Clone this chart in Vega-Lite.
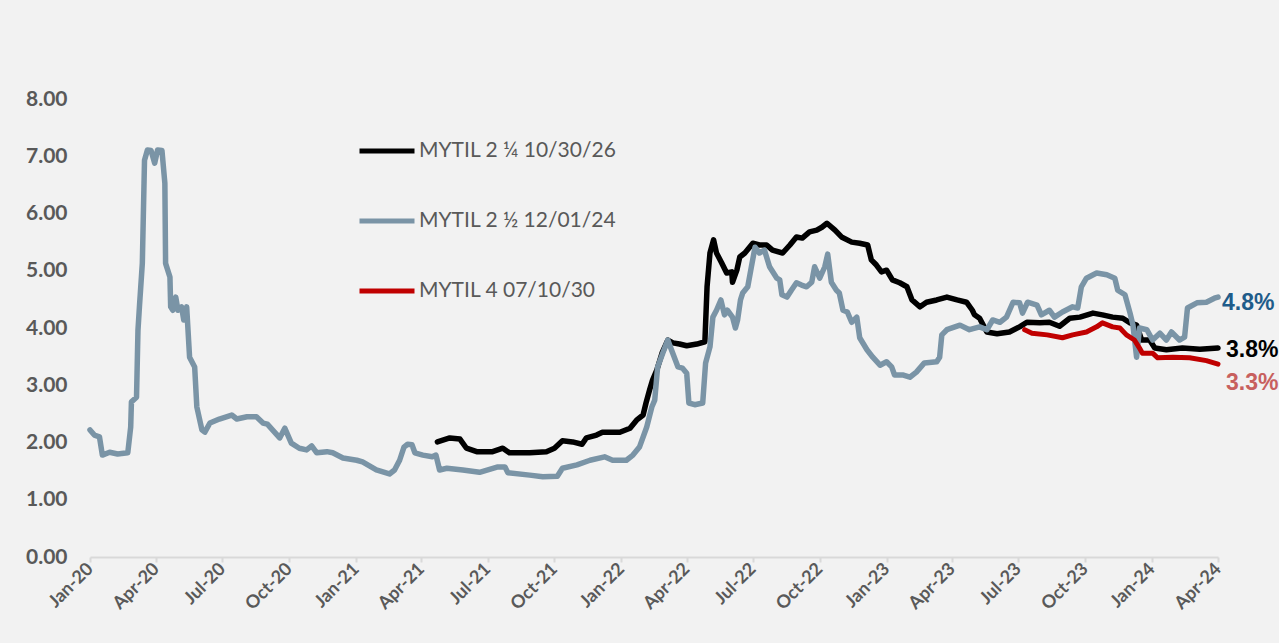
{
"$schema": "https://vega.github.io/schema/vega-lite/v6.json",
"width": 1128, "height": 458,
"autosize": {"type": "none"},
"padding": {"left": 90, "top": 99, "right": 61, "bottom": 86},
"background": "#f2f2f2",
"config": {"view": {"stroke": null}, "font": "Lato"},
"datasets": {
"black": [
{"d":"2021-04-23","v":2.01},{"d":"2021-05-10","v":2.08},{"d":"2021-05-24","v":2.06},{"d":"2021-06-02","v":1.90},{"d":"2021-06-16","v":1.84},{"d":"2021-07-08","v":1.84},{"d":"2021-07-22","v":1.90},{"d":"2021-07-31","v":1.82},{"d":"2021-08-28","v":1.82},{"d":"2021-09-20","v":1.84},{"d":"2021-10-01","v":1.90},{"d":"2021-10-12","v":2.03},{"d":"2021-10-26","v":2.01},{"d":"2021-11-08","v":1.97},{"d":"2021-11-14","v":2.08},{"d":"2021-11-28","v":2.13},{"d":"2021-12-06","v":2.18},{"d":"2021-12-30","v":2.18},{"d":"2022-01-13","v":2.25},{"d":"2022-01-22","v":2.39},{"d":"2022-01-31","v":2.48},{"d":"2022-02-04","v":2.69},{"d":"2022-02-09","v":2.92},{"d":"2022-02-13","v":3.09},{"d":"2022-02-19","v":3.27},{"d":"2022-02-26","v":3.56},{"d":"2022-03-06","v":3.79},{"d":"2022-03-13","v":3.74},{"d":"2022-03-22","v":3.72},{"d":"2022-04-01","v":3.69},{"d":"2022-04-15","v":3.72},{"d":"2022-04-26","v":3.76},{"d":"2022-04-29","v":4.72},{"d":"2022-05-03","v":5.31},{"d":"2022-05-08","v":5.54},{"d":"2022-05-12","v":5.31},{"d":"2022-05-19","v":5.14},{"d":"2022-05-26","v":4.96},{"d":"2022-06-02","v":4.98},{"d":"2022-06-03","v":4.80},{"d":"2022-06-09","v":5.01},{"d":"2022-06-13","v":5.24},{"d":"2022-06-20","v":5.31},{"d":"2022-07-01","v":5.48},{"d":"2022-07-10","v":5.45},{"d":"2022-07-20","v":5.45},{"d":"2022-07-28","v":5.36},{"d":"2022-08-11","v":5.31},{"d":"2022-08-21","v":5.45},{"d":"2022-08-30","v":5.59},{"d":"2022-09-07","v":5.57},{"d":"2022-09-17","v":5.68},{"d":"2022-09-27","v":5.71},{"d":"2022-10-04","v":5.76},{"d":"2022-10-11","v":5.83},{"d":"2022-10-22","v":5.71},{"d":"2022-10-31","v":5.59},{"d":"2022-11-14","v":5.50},{"d":"2022-11-25","v":5.48},{"d":"2022-12-06","v":5.45},{"d":"2022-12-11","v":5.19},{"d":"2022-12-18","v":5.10},{"d":"2022-12-25","v":4.98},{"d":"2023-01-01","v":5.01},{"d":"2023-01-09","v":4.84},{"d":"2023-01-19","v":4.79},{"d":"2023-01-29","v":4.72},{"d":"2023-02-05","v":4.49},{"d":"2023-02-16","v":4.37},{"d":"2023-02-25","v":4.45},{"d":"2023-03-11","v":4.49},{"d":"2023-03-25","v":4.54},{"d":"2023-04-08","v":4.49},{"d":"2023-04-21","v":4.45},{"d":"2023-04-29","v":4.31},{"d":"2023-05-02","v":4.23},{"d":"2023-05-09","v":4.17},{"d":"2023-05-19","v":3.93},{"d":"2023-06-02","v":3.90},{"d":"2023-06-19","v":3.93},{"d":"2023-07-03","v":4.02},{"d":"2023-07-13","v":4.10},{"d":"2023-07-31","v":4.09},{"d":"2023-08-13","v":4.10},{"d":"2023-08-27","v":4.03},{"d":"2023-09-10","v":4.17},{"d":"2023-09-24","v":4.19},{"d":"2023-10-12","v":4.26},{"d":"2023-10-25","v":4.23},{"d":"2023-11-08","v":4.19},{"d":"2023-11-22","v":4.17},{"d":"2023-12-02","v":4.09},{"d":"2023-12-11","v":4.05},{"d":"2023-12-18","v":3.79},{"d":"2023-12-29","v":3.79},{"d":"2024-01-05","v":3.65},{"d":"2024-01-21","v":3.62},{"d":"2024-02-12","v":3.65},{"d":"2024-03-07","v":3.63},{"d":"2024-04-01","v":3.65}
],
"gray": [
{"d":"2020-01-01","v":2.22},{"d":"2020-01-07","v":2.13},{"d":"2020-01-14","v":2.10},{"d":"2020-01-18","v":1.78},{"d":"2020-01-28","v":1.83},{"d":"2020-02-08","v":1.80},{"d":"2020-02-22","v":1.82},{"d":"2020-02-26","v":2.27},{"d":"2020-02-27","v":2.71},{"d":"2020-03-05","v":2.79},{"d":"2020-03-07","v":3.96},{"d":"2020-03-09","v":4.37},{"d":"2020-03-13","v":5.13},{"d":"2020-03-16","v":6.93},{"d":"2020-03-20","v":7.11},{"d":"2020-03-25","v":7.10},{"d":"2020-03-30","v":6.88},{"d":"2020-04-03","v":7.11},{"d":"2020-04-09","v":7.10},{"d":"2020-04-13","v":6.53},{"d":"2020-04-14","v":5.13},{"d":"2020-04-20","v":4.89},{"d":"2020-04-21","v":4.37},{"d":"2020-04-24","v":4.31},{"d":"2020-04-28","v":4.54},{"d":"2020-05-01","v":4.31},{"d":"2020-05-06","v":4.37},{"d":"2020-05-09","v":4.14},{"d":"2020-05-13","v":4.37},{"d":"2020-05-17","v":3.49},{"d":"2020-05-24","v":3.32},{"d":"2020-05-27","v":2.62},{"d":"2020-06-03","v":2.22},{"d":"2020-06-07","v":2.18},{"d":"2020-06-14","v":2.34},{"d":"2020-06-27","v":2.41},{"d":"2020-07-14","v":2.48},{"d":"2020-07-21","v":2.41},{"d":"2020-08-04","v":2.45},{"d":"2020-08-17","v":2.45},{"d":"2020-08-26","v":2.34},{"d":"2020-09-01","v":2.32},{"d":"2020-09-18","v":2.08},{"d":"2020-09-25","v":2.25},{"d":"2020-10-04","v":1.99},{"d":"2020-10-15","v":1.90},{"d":"2020-10-25","v":1.87},{"d":"2020-11-01","v":1.94},{"d":"2020-11-08","v":1.82},{"d":"2020-11-22","v":1.84},{"d":"2020-11-30","v":1.82},{"d":"2020-12-14","v":1.73},{"d":"2021-01-02","v":1.69},{"d":"2021-01-10","v":1.66},{"d":"2021-01-29","v":1.52},{"d":"2021-02-16","v":1.45},{"d":"2021-02-23","v":1.52},{"d":"2021-03-02","v":1.69},{"d":"2021-03-08","v":1.92},{"d":"2021-03-13","v":1.97},{"d":"2021-03-19","v":1.96},{"d":"2021-03-23","v":1.82},{"d":"2021-04-03","v":1.78},{"d":"2021-04-16","v":1.75},{"d":"2021-04-21","v":1.78},{"d":"2021-04-26","v":1.52},{"d":"2021-05-06","v":1.55},{"d":"2021-05-28","v":1.52},{"d":"2021-06-20","v":1.48},{"d":"2021-07-14","v":1.57},{"d":"2021-07-25","v":1.57},{"d":"2021-07-29","v":1.47},{"d":"2021-08-28","v":1.43},{"d":"2021-09-15","v":1.40},{"d":"2021-10-05","v":1.41},{"d":"2021-10-12","v":1.55},{"d":"2021-11-01","v":1.61},{"d":"2021-11-19","v":1.69},{"d":"2021-12-09","v":1.75},{"d":"2021-12-20","v":1.69},{"d":"2022-01-08","v":1.69},{"d":"2022-01-17","v":1.78},{"d":"2022-01-26","v":1.92},{"d":"2022-02-05","v":2.27},{"d":"2022-02-12","v":2.62},{"d":"2022-02-16","v":2.74},{"d":"2022-02-20","v":3.32},{"d":"2022-02-27","v":3.56},{"d":"2022-03-06","v":3.79},{"d":"2022-03-11","v":3.62},{"d":"2022-03-20","v":3.32},{"d":"2022-03-26","v":3.30},{"d":"2022-04-01","v":3.21},{"d":"2022-04-04","v":2.69},{"d":"2022-04-12","v":2.66},{"d":"2022-04-23","v":2.69},{"d":"2022-04-27","v":3.39},{"d":"2022-05-03","v":3.67},{"d":"2022-05-07","v":4.19},{"d":"2022-05-12","v":4.31},{"d":"2022-05-18","v":4.49},{"d":"2022-05-23","v":4.23},{"d":"2022-05-27","v":4.31},{"d":"2022-06-03","v":4.19},{"d":"2022-06-07","v":4.00},{"d":"2022-06-10","v":4.14},{"d":"2022-06-14","v":4.49},{"d":"2022-06-17","v":4.61},{"d":"2022-06-24","v":4.72},{"d":"2022-06-29","v":5.07},{"d":"2022-07-04","v":5.41},{"d":"2022-07-10","v":5.31},{"d":"2022-07-17","v":5.36},{"d":"2022-07-24","v":5.07},{"d":"2022-08-03","v":4.87},{"d":"2022-08-07","v":4.84},{"d":"2022-08-10","v":4.58},{"d":"2022-08-17","v":4.54},{"d":"2022-08-23","v":4.66},{"d":"2022-08-30","v":4.79},{"d":"2022-09-06","v":4.75},{"d":"2022-09-13","v":4.72},{"d":"2022-09-20","v":4.80},{"d":"2022-09-24","v":5.07},{"d":"2022-10-01","v":4.87},{"d":"2022-10-08","v":5.07},{"d":"2022-10-12","v":5.29},{"d":"2022-10-17","v":4.80},{"d":"2022-10-24","v":4.66},{"d":"2022-10-28","v":4.61},{"d":"2022-11-02","v":4.31},{"d":"2022-11-08","v":4.28},{"d":"2022-11-14","v":4.10},{"d":"2022-11-21","v":4.19},{"d":"2022-11-25","v":3.83},{"d":"2022-12-05","v":3.62},{"d":"2022-12-13","v":3.49},{"d":"2022-12-23","v":3.35},{"d":"2023-01-01","v":3.41},{"d":"2023-01-08","v":3.32},{"d":"2023-01-12","v":3.18},{"d":"2023-01-23","v":3.18},{"d":"2023-02-02","v":3.14},{"d":"2023-02-11","v":3.23},{"d":"2023-02-22","v":3.39},{"d":"2023-03-11","v":3.41},{"d":"2023-03-15","v":3.49},{"d":"2023-03-18","v":3.88},{"d":"2023-03-25","v":3.97},{"d":"2023-04-12","v":4.05},{"d":"2023-04-25","v":3.97},{"d":"2023-05-09","v":4.02},{"d":"2023-05-19","v":3.97},{"d":"2023-05-27","v":4.14},{"d":"2023-06-06","v":4.10},{"d":"2023-06-15","v":4.19},{"d":"2023-06-24","v":4.45},{"d":"2023-07-03","v":4.44},{"d":"2023-07-07","v":4.26},{"d":"2023-07-14","v":4.45},{"d":"2023-07-27","v":4.40},{"d":"2023-08-02","v":4.23},{"d":"2023-08-13","v":4.31},{"d":"2023-08-20","v":4.19},{"d":"2023-08-31","v":4.28},{"d":"2023-09-14","v":4.37},{"d":"2023-09-21","v":4.35},{"d":"2023-09-26","v":4.72},{"d":"2023-10-03","v":4.87},{"d":"2023-10-17","v":4.96},{"d":"2023-10-31","v":4.93},{"d":"2023-11-11","v":4.87},{"d":"2023-11-15","v":4.66},{"d":"2023-11-25","v":4.58},{"d":"2023-12-02","v":4.26},{"d":"2023-12-06","v":4.05},{"d":"2023-12-11","v":3.49},{"d":"2023-12-15","v":4.00},{"d":"2023-12-25","v":3.97},{"d":"2024-01-02","v":3.79},{"d":"2024-01-12","v":3.91},{"d":"2024-01-21","v":3.79},{"d":"2024-01-28","v":3.93},{"d":"2024-02-08","v":3.79},{"d":"2024-02-15","v":3.84},{"d":"2024-02-19","v":4.35},{"d":"2024-03-03","v":4.44},{"d":"2024-03-16","v":4.45},{"d":"2024-03-27","v":4.52},{"d":"2024-04-01","v":4.54}
],
"red": [
{"d":"2023-07-10","v":3.97},{"d":"2023-07-20","v":3.91},{"d":"2023-08-10","v":3.88},{"d":"2023-08-31","v":3.83},{"d":"2023-09-14","v":3.88},{"d":"2023-10-03","v":3.93},{"d":"2023-10-17","v":4.02},{"d":"2023-10-25","v":4.09},{"d":"2023-11-08","v":4.02},{"d":"2023-11-18","v":4.00},{"d":"2023-11-27","v":3.88},{"d":"2023-12-08","v":3.79},{"d":"2023-12-15","v":3.65},{"d":"2023-12-19","v":3.56},{"d":"2024-01-02","v":3.56},{"d":"2024-01-09","v":3.48},{"d":"2024-01-30","v":3.49},{"d":"2024-02-22","v":3.48},{"d":"2024-03-16","v":3.43},{"d":"2024-04-01","v":3.37}
],
"lab1": [{"d":"2024-04-01","v":4.44,"t":"4.8%"}],
"lab2": [{"d":"2024-04-01","v":3.62,"t":"3.8%"}],
"lab3": [{"d":"2024-04-01","v":3.04,"t":"3.3%"}]
},
"encoding": {
"x": {"field": "d", "type": "temporal", "title": null,
 "scale": {"type": "utc", "nice": false, "domain": [{"year":2020,"month":1,"date":1,"utc":true},{"year":2024,"month":4,"date":1,"utc":true}]},
 "axis": {"format": "%b-%y", "tickCount": {"interval": "month", "step": 3}, "labelAngle": -45, "labelAlign": "right", "labelBaseline": "middle", "labelFont": "Lato", "labelFontWeight": "bold", "labelFontSize": 18, "labelColor": "#595959", "domainColor": "#d9d9d9", "domainWidth": 2, "tickColor": "#d9d9d9", "tickWidth": 2, "tickSize": 5, "grid": false, "labelPadding": 4, "labelOverlap": false, "labelFlush": false, "labelBound": false}},
"y": {"field": "v", "type": "quantitative", "title": null,
 "scale": {"domain": [0, 8], "nice": false},
 "axis": {"values": [0,1,2,3,4,5,6,7,8], "format": ".2f", "domain": false, "ticks": false, "grid": false, "labelFont": "Lato", "labelFontWeight": "bold", "labelFontSize": 21, "labelColor": "#595959", "labelPadding": 23}}
},
"layer": [
{"data": {"name": "black"}, "mark": {"type": "line", "strokeWidth": 5.5, "strokeCap": "round", "strokeJoin": "round"},
 "encoding": {"color": {"datum": "MYTIL 2 ¼ 10/30/26", "type": "nominal",
  "scale": {"domain": ["MYTIL 2 ¼ 10/30/26", "MYTIL 2 ½ 12/01/24", "MYTIL 4 07/10/30"], "range": ["#000000", "#7A94A6", "#C00000"]},
  "legend": {"orient": "none", "legendX": 267, "legendY": 22, "title": null, "symbolType": "stroke", "symbolSize": 3025, "symbolStrokeWidth": 5, "labelFont": "Lato", "labelFontSize": 21, "labelColor": "#595959", "labelOffset": 2, "rowPadding": 30, "labelLimit": 400}}}},
{"data": {"name": "gray"}, "mark": {"type": "line", "strokeWidth": 5.5, "strokeCap": "round", "strokeJoin": "round"},
 "encoding": {"color": {"datum": "MYTIL 2 ½ 12/01/24", "type": "nominal"}}},
{"data": {"name": "red"}, "mark": {"type": "line", "strokeWidth": 5, "strokeCap": "round", "strokeJoin": "round"},
 "encoding": {"color": {"datum": "MYTIL 4 07/10/30", "type": "nominal"}}},
{"data": {"name": "lab1"}, "mark": {"type": "text", "align": "left", "baseline": "middle", "dx": 4, "font": "Liberation Sans", "fontWeight": "bold", "fontSize": 23, "color": "#1F5C8A"}, "encoding": {"text": {"field": "t"}}},
{"data": {"name": "lab2"}, "mark": {"type": "text", "align": "left", "baseline": "middle", "dx": 8, "font": "Liberation Sans", "fontWeight": "bold", "fontSize": 23, "color": "#000000"}, "encoding": {"text": {"field": "t"}}},
{"data": {"name": "lab3"}, "mark": {"type": "text", "align": "left", "baseline": "middle", "dx": 8, "font": "Liberation Sans", "fontWeight": "bold", "fontSize": 23, "color": "#C8605E"}, "encoding": {"text": {"field": "t"}}}
]
}
